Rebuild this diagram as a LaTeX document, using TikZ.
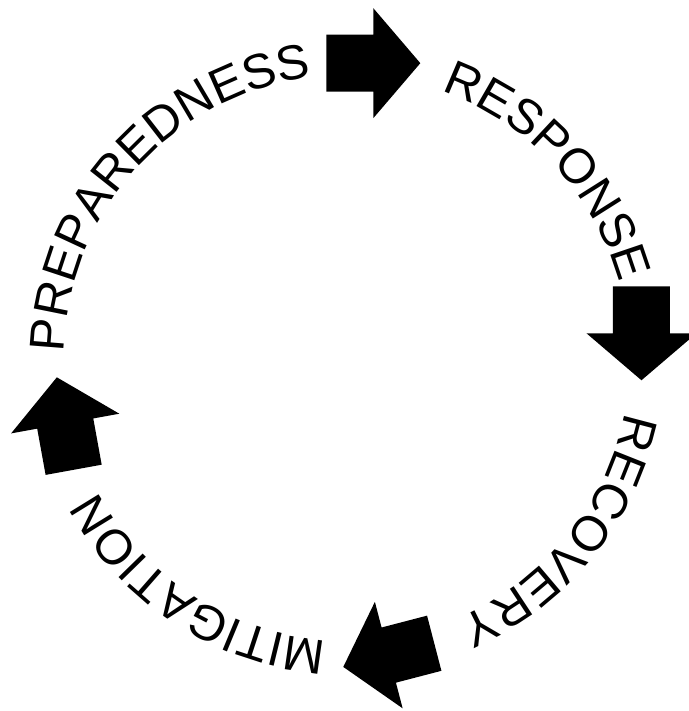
\documentclass[tikz,border=0pt]{standalone}
\usepackage{fontspec}
\setmainfont{Liberation Sans}
\usetikzlibrary{decorations.text}

\newcommand{\phasefont}{\fontsize{49}{49}\selectfont}

\tikzset{
  phase/.style={decorate, decoration={text along path, text align=center, text={|\phasefont|#1}}},
  blockarrow/.pic={
    \fill (-47,-28.5) -- (0,-28.5) -- (0,-55) -- (47,0) -- (0,55) -- (0,28.5) -- (-47,28.5) -- cycle;
  }
}

\begin{document}
\begin{tikzpicture}[x=1pt, y=1pt]
  \useasboundingbox (0,0) rectangle (688,711);
  \coordinate (c) at (347,353);

  % phases, clockwise, letters outward
  \path[phase=PREPAREDNESS] (c) ++(188:283) arc[start angle=188, end angle=88, radius=283];
  \path[phase=RESPONSE] (c) ++(83:283) arc[start angle=83, end angle=3, radius=283];
  \path[phase=RECOVERY] (c) ++(1:283) arc[start angle=1, end angle=-79, radius=283];
  \path[phase=MITIGATION] (c) ++(277:283) arc[start angle=277, end angle=197, radius=283];

  % block arrows between phases
  \foreach \ang/\rad/\rot in {84.9/296/0, 4.8/295.5/-90, -82/300/194.6, 193.1/289.3/100.3}
    \path (c) ++(\ang:\rad) pic[rotate=\rot] {blockarrow};
\end{tikzpicture}
\end{document}
